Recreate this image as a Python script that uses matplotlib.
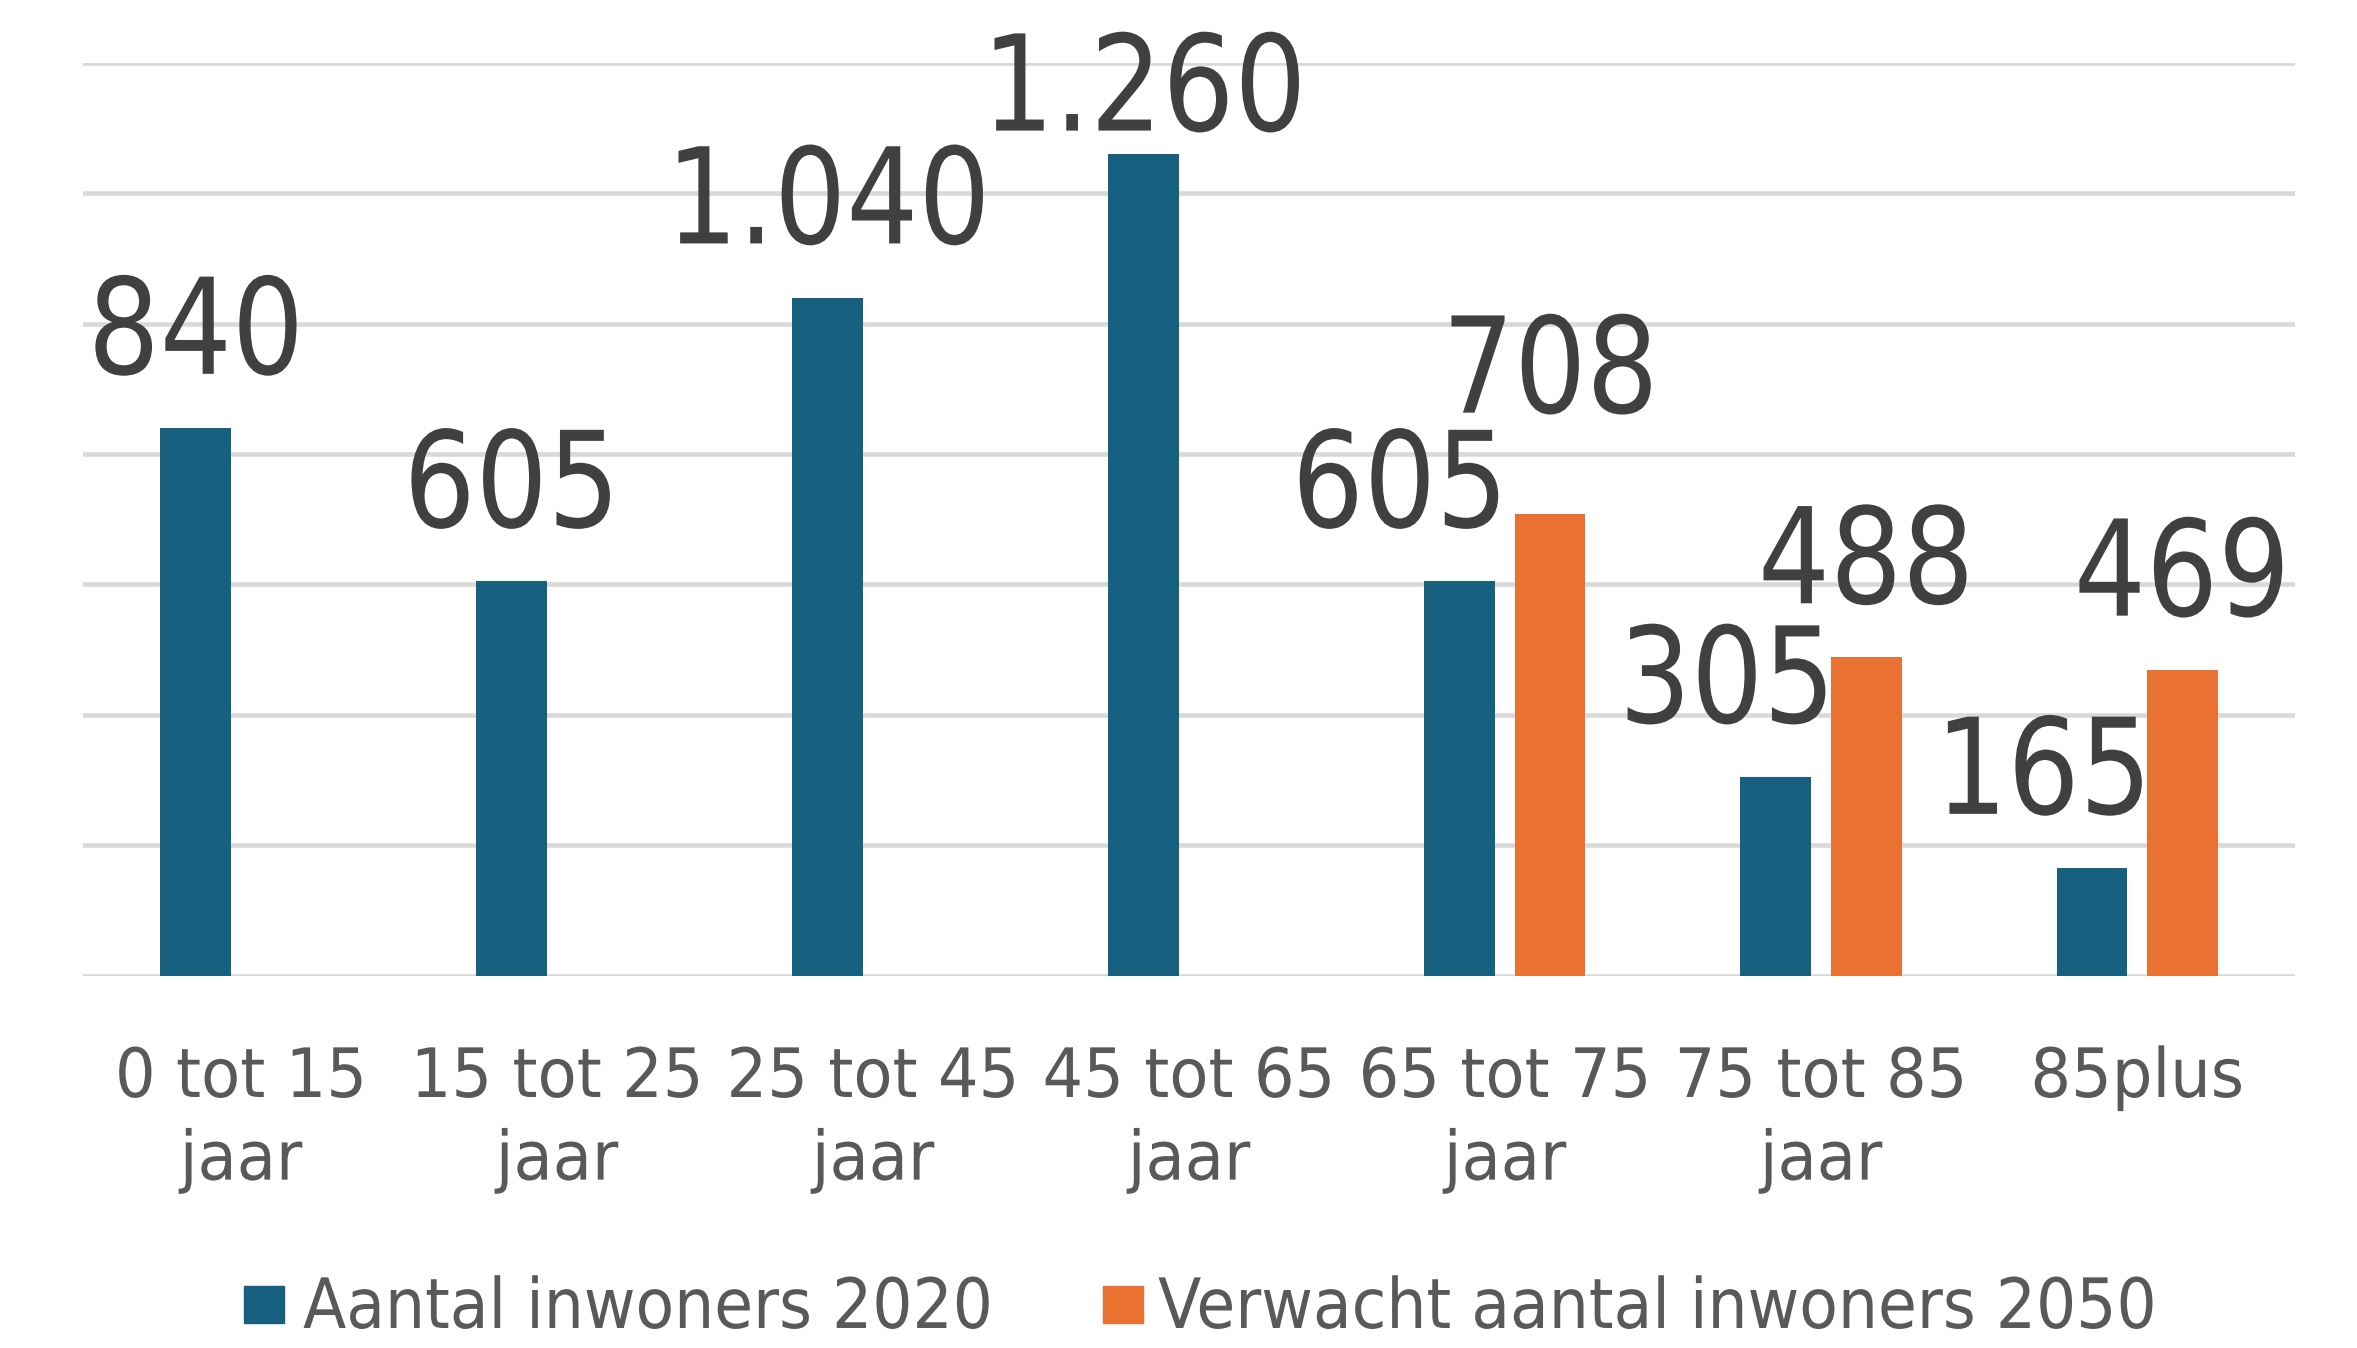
import matplotlib.pyplot as plt
import matplotlib.patheffects as pe
from matplotlib.transforms import Affine2D
import numpy as np

categories = ['0 tot 15\njaar', '15 tot 25\njaar', '25 tot 45\njaar', '45 tot 65\njaar',
              '65 tot 75\njaar', '75 tot 85\njaar', '85plus']
inwoners_2020 = [840, 605, 1040, 1260, 605, 305, 165]
verwacht_2050 = [None, None, None, None, 708, 488, 469]
series_names = ['Aantal inwoners 2020', 'Verwacht aantal inwoners 2050']

BLUE = '#17607F'
ORANGE = '#E97132'
plt.rcParams['font.family'] = ['DejaVu Sans']


class Squeeze(pe.AbstractPathEffect):
    """Narrow the text horizontally (the original uses a Tahoma-like font)."""

    def __init__(self, sx, anchor='center'):
        super().__init__()
        self.sx = sx
        self.anchor = anchor

    def draw_path(self, renderer, gc, tpath, affine, rgbFace=None):
        ext = tpath.get_extents(affine)
        cx = ext.x0 if self.anchor == 'left' else (ext.x0 + ext.x1) / 2
        aff = affine + Affine2D().translate(-cx, 0).scale(self.sx, 1).translate(cx, 0)
        renderer.draw_path(gc, tpath, aff, rgbFace)


fig = plt.figure(figsize=(23.57, 13.48), dpi=100)
ax = fig.add_axes([0.0352, 0.2763, 0.9385, 0.677])

x = np.arange(len(categories))
width = 0.2235
off = 0.143


def fmt(v):
    return f'{v:,}'.replace(',', '.')


# label offsets (points) for labels that were moved by hand in the original
blue_dx = [0, 0, 0, 0, -43, -35, -35]
blue_dy = [39, 39, 39, 17, 39, 39, 39]
orange_dy = [0, 0, 0, 0, 73, 39, 39]
val_fx = [Squeeze(0.85)]

for i, v in enumerate(inwoners_2020):
    ax.bar(x[i] - off, v, width, color=BLUE, zorder=3)
    ax.annotate(fmt(v), xy=(x[i] - off, v), xytext=(blue_dx[i], blue_dy[i]),
                textcoords='offset points', ha='center', va='baseline',
                fontsize=96, color='#404040', zorder=4, path_effects=val_fx)

for i, v in enumerate(verwacht_2050):
    if v is None:
        continue
    ax.bar(x[i] + off, v, width, color=ORANGE, zorder=3)
    ax.annotate(fmt(v), xy=(x[i] + off, v), xytext=(0, orange_dy[i]),
                textcoords='offset points', ha='center', va='baseline',
                fontsize=96, color='#404040', zorder=4, path_effects=val_fx)

ax.set_xlim(-0.5, len(categories) - 0.5)
ax.set_ylim(0, 1400)
ax.set_yticks(np.arange(0, 1401, 200))
ax.set_yticklabels([])
ax.yaxis.grid(True, color='#D9D9D9', linewidth=3.3, zorder=0)
ax.set_xticks(x)
ax.set_xticklabels(categories, fontsize=49, color='#595959', linespacing=1.32)
for lbl in ax.get_xticklabels():
    lbl.set_path_effects([Squeeze(0.94)])
ax.tick_params(axis='both', length=0)
ax.tick_params(axis='x', pad=50)
for s in ax.spines.values():
    s.set_visible(False)

# legend drawn by hand so the squeezed text keeps the original spacing
W, H = 2357, 1348
for (sq_x, txt_x), col, name in zip([(244, 303), (1103, 1158)], [BLUE, ORANGE], series_names):
    fig.patches.append(plt.Rectangle((sq_x / W, (H - 1323) / H), 40 / W, 37 / H,
                                     color=col, transform=fig.transFigure, figure=fig))
    fig.text(txt_x / W, (H - 1328) / H, name, fontsize=50, color='#595959',
             ha='left', va='baseline', path_effects=[Squeeze(0.91, anchor='left')])

fig.savefig('out.png', dpi=100)
